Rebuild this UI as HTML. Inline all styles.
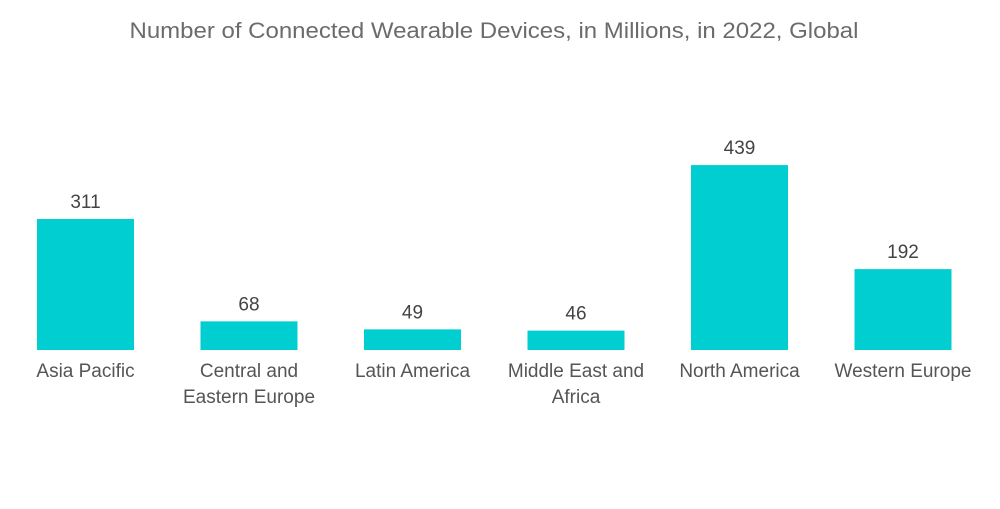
<!DOCTYPE html>
<html><head><meta charset="utf-8"><style>
body{margin:0;background:#fff;width:1000px;height:504px;overflow:hidden;font-family:"Liberation Sans",sans-serif}
</style></head><body>
<svg width="1000" height="504">
<text x="494" y="38" text-anchor="middle" font-size="22" fill="#6b6b6b" textLength="729" lengthAdjust="spacingAndGlyphs">Number of Connected Wearable Devices, in Millions, in 2022, Global</text>
<g id="bars"></g>
</svg>
<script>
const categories=[["Asia Pacific"],["Central and","Eastern Europe"],["Latin America"],["Middle East and","Africa"],["North America"],["Western Europe"]];
const values=[311,68,49,46,439,192];
const baseY=350, scale=131/311, x0=85.5, step=163.5, bw=97;
const g=document.getElementById('bars');
const ns='http://www.w3.org/2000/svg';
function xc(i){return x0+i*step;}
function yv(v){return baseY-v*scale;}
values.forEach((v,i)=>{
 const r=document.createElementNS(ns,'rect');
 r.setAttribute('x',xc(i)-bw/2);r.setAttribute('y',yv(v));
 r.setAttribute('width',bw);r.setAttribute('height',baseY-yv(v));
 r.setAttribute('fill','#00ced1');
 
 
 g.appendChild(r);
 const t=document.createElementNS(ns,'text');
 t.setAttribute('x',xc(i));t.setAttribute('y',yv(v)-11);
 t.setAttribute('text-anchor','middle');t.setAttribute('font-size','19');t.setAttribute('fill','#444');
 t.textContent=v;
 
 
 g.appendChild(t);
 categories[i].forEach((line,j)=>{
  const c=document.createElementNS(ns,'text');
  c.setAttribute('x',xc(i));c.setAttribute('y',377+j*26);
  c.setAttribute('text-anchor','middle');c.setAttribute('font-size','19');c.setAttribute('fill','#555');
  c.textContent=line;
  
  
  g.appendChild(c);
 });
});
</script>
</body></html>
